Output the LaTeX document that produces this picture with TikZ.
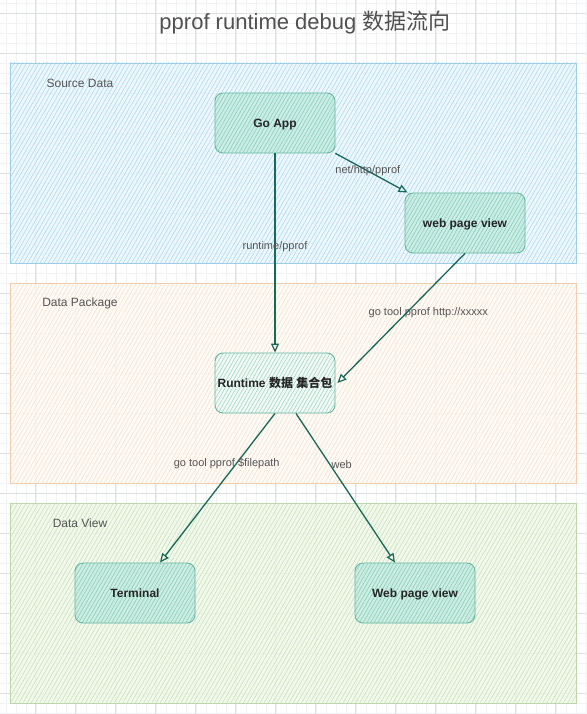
\documentclass[tikz,border=0pt]{standalone}
\usepackage{fontspec}
\setmainfont{Liberation Sans}
\newfontfamily\cjk{Noto Sans CJK SC}
\usetikzlibrary{patterns.meta,arrows.meta}
\definecolor{gridmaj}{HTML}{DCDFE3}
\definecolor{gridmin}{HTML}{F1F2F4}
\definecolor{srcfill}{HTML}{EAF6FC}
\definecolor{srchatch}{HTML}{A9D9EF}
\definecolor{srcdraw}{HTML}{9ECDE6}
\definecolor{pkgfill}{HTML}{FFFAF4}
\definecolor{pkghatch}{HTML}{F3E1CE}
\definecolor{pkgdraw}{HTML}{F0CDAE}
\definecolor{viewfill}{HTML}{EFF7E8}
\definecolor{viewhatch}{HTML}{C6E0B4}
\definecolor{viewdraw}{HTML}{BDD6AC}
\definecolor{tealfill}{HTML}{C8ECE2}
\definecolor{tealhatch}{HTML}{86CFBC}
\definecolor{tealdraw}{HTML}{68B7A2}
\definecolor{rtfill}{HTML}{F2FAF7}
\definecolor{rthatch}{HTML}{9DD8C7}
\definecolor{edgecol}{HTML}{17695A}
\definecolor{lblcol}{HTML}{555555}
\definecolor{titlecol}{HTML}{505050}
\tikzset{
  regionbox/.style={draw=#1draw, line width=0.9pt,
    preaction={fill=#1fill, fill opacity=0.8},
    pattern={Lines[angle=60,distance=3.6pt,line width=0.55pt]}, pattern color=#1hatch,
    minimum width=566pt, minimum height=200pt, inner sep=0pt},
  regionlbl/.style={text=lblcol, font=\fontsize{12pt}{14pt}\selectfont, inner sep=0pt},
  procbox/.style={draw=tealdraw, line width=0.9pt, rounded corners=8pt,
    preaction={fill=#1fill, fill opacity=0.85},
    pattern={Lines[angle=60,distance=3.2pt,line width=0.6pt]}, pattern color=#1hatch,
    minimum width=120pt, minimum height=60pt, inner sep=0pt,
    text height=8.6pt, text depth=0pt,
    text=black!85, font=\fontsize{12pt}{14pt}\selectfont\bfseries},
  flow/.style={draw=edgecol, line width=1.3pt, -{Triangle[open,length=9pt,width=8pt,line width=1.2pt]}},
  elbl/.style={text=lblcol, font=\fontsize{11pt}{13pt}\selectfont, inner sep=0pt}
}
\begin{document}
\begin{tikzpicture}[x=1pt,y=-1pt]
\useasboundingbox (0,0) rectangle (586,714);
\fill[white] (0,0) rectangle (586,714);
% grid
\foreach \i in {0,...,59} {
  \draw[gridmin, line width=0.4pt] ({-4.3+10*\i},0) -- ({-4.3+10*\i},714);
}
\foreach \i in {0,...,72} {
  \draw[gridmin, line width=0.4pt] (0,{3.3+10*\i}) -- (586,{3.3+10*\i});
}
\foreach \i in {1,...,15} {
  \draw[gridmaj, line width=0.6pt] ({-4.3+40*\i},0) -- ({-4.3+40*\i},714);
}
\foreach \i in {0,...,17} {
  \draw[gridmaj, line width=0.6pt] (0,{13.3+40*\i}) -- (586,{13.3+40*\i});
}
% title
\node[text=titlecol, font=\fontsize{22pt}{26pt}\selectfont, inner sep=0pt] (title) at (305,23) {pprof runtime debug {\cjk 数据流向}};
% regions
\node[regionbox=src] (src) at (293,163) {};
\node[regionbox=pkg] (pkg) at (293,383) {};
\node[regionbox=view] (view) at (293,603) {};
\node[regionlbl] (srclbl) at (80,83.5) {Source Data};
\node[regionlbl] (pkglbl) at (80,303.5) {Data Package};
\node[regionlbl] (viewlbl) at (80,523.5) {Data View};
% process nodes
\node[procbox=teal] (goapp) at (275,123) {Go App};
\node[procbox=teal] (wpv) at (465,223) {web page view};
\node[procbox=rt] (rt) at (275,383) {Runtime {\cjk 数据} {\cjk 集合包}};
\node[procbox=teal] (term) at (135,593) {Terminal};
\node[procbox=teal] (wv) at (415,593) {Web page view};
% edges
\draw[flow] (goapp.south) -- node[elbl, pos=0.47] (l1) {runtime/pprof} (rt.north);
\draw[flow] (goapp.south east) -- node[elbl, pos=0.45] (l2) {net/http/pprof} ([xshift=3pt]wpv.north west);
\draw[flow] (wpv.south) -- node[elbl, pos=0.46, xshift=22pt] (l3) {go tool pprof http://xxxxx} ([xshift=2pt]rt.east);
\draw[flow] (rt.south) -- node[elbl, pos=0.333, xshift=-10pt] (l4) {go tool pprof \$filepath} ([xshift=25pt]term.north);
\draw[flow] ([xshift=21pt]rt.south) -- node[elbl, pos=0.34, xshift=12pt] (l5) {web} ([xshift=-20pt]wv.north);
\end{tikzpicture}
\end{document}
